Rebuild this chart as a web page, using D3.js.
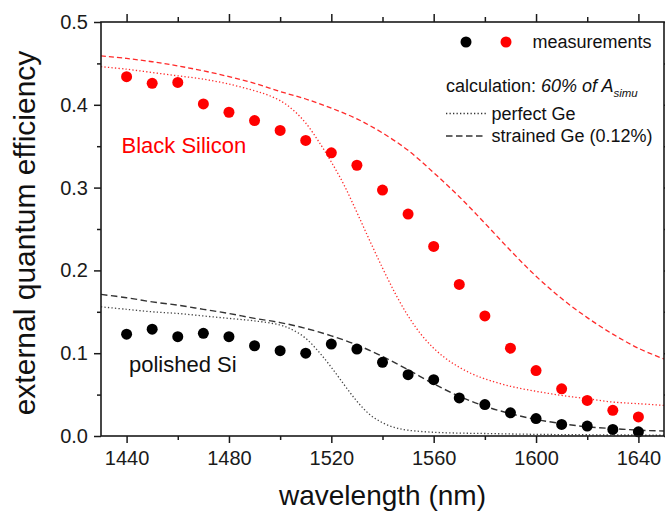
<!DOCTYPE html>
<html>
<head>
<meta charset="utf-8">
<script src="https://cdn.jsdelivr.net/npm/d3@7"></script>
<style>
  body { margin: 0; background: #fff; }
  text { font-family: "Liberation Sans", Arial, Helvetica, sans-serif; }
</style>
</head>
<body>
<svg id="chart" width="665" height="516"></svg>
<script>
// Measured external quantum efficiency (wavelength in nm)
const measWavelength = [1440, 1450, 1460, 1470, 1480, 1490, 1500, 1510, 1520, 1530, 1540,
                        1550, 1560, 1570, 1580, 1590, 1600, 1610, 1620, 1630, 1640];
const blackSiEQE = [0.434, 0.426, 0.427, 0.401, 0.391, 0.381, 0.369, 0.357, 0.342, 0.327, 0.297,
                    0.268, 0.229, 0.183, 0.145, 0.106, 0.079, 0.057, 0.043, 0.031, 0.023];
const polishedSiEQE = [0.123, 0.129, 0.120, 0.124, 0.120, 0.109, 0.103, 0.100, 0.111, 0.105, 0.089,
                       0.074, 0.068, 0.046, 0.038, 0.028, 0.021, 0.014, 0.012, 0.008, 0.005];

// Calculations: 60% of simulated absorption
const blackStrainedWl = [1430, 1440, 1450, 1460, 1470, 1480, 1490, 1500, 1510, 1520, 1530, 1540,
                         1550, 1560, 1570, 1580, 1590, 1600, 1610, 1620, 1630, 1640, 1650];
const blackStrainedEQE = [0.459, 0.456, 0.452, 0.447, 0.441, 0.434, 0.426, 0.416, 0.407, 0.396, 0.383, 0.366,
                          0.345, 0.318, 0.289, 0.257, 0.224, 0.193, 0.166, 0.143, 0.123, 0.106, 0.093];

const blackPerfectWl = [1430, 1440, 1450, 1460, 1470, 1480, 1490, 1495, 1500, 1505, 1510, 1515, 1520, 1525,
                        1530, 1535, 1540, 1545, 1550, 1555, 1560, 1565, 1570, 1575, 1580, 1590, 1600, 1610,
                        1620, 1630, 1640, 1650];
const blackPerfectEQE = [0.446, 0.443, 0.439, 0.435, 0.431, 0.425, 0.417, 0.412, 0.405, 0.394, 0.378, 0.356, 0.331, 0.303,
                         0.270, 0.236, 0.203, 0.172, 0.145, 0.123, 0.106, 0.093, 0.083, 0.075, 0.069, 0.060, 0.054, 0.049,
                         0.045, 0.041, 0.039, 0.037];

const polishedStrainedWl = [1430, 1440, 1450, 1460, 1470, 1480, 1490, 1500, 1510, 1520, 1530, 1540,
                            1550, 1560, 1570, 1580, 1590, 1600, 1610, 1620, 1630, 1640, 1650];
const polishedStrainedEQE = [0.171, 0.167, 0.162, 0.158, 0.153, 0.148, 0.142, 0.137, 0.130, 0.121, 0.110, 0.096,
                             0.080, 0.063, 0.048, 0.036, 0.027, 0.020, 0.015, 0.011, 0.009, 0.007, 0.006];

const polishedPerfectWl = [1430, 1440, 1450, 1460, 1470, 1480, 1490, 1500, 1505, 1510, 1515, 1520, 1525,
                           1530, 1535, 1540, 1545, 1550, 1560, 1570, 1580, 1600, 1620, 1650];
const polishedPerfectEQE = [0.156, 0.153, 0.150, 0.148, 0.145, 0.142, 0.139, 0.134, 0.128, 0.118, 0.102, 0.083, 0.062,
                            0.042, 0.026, 0.016, 0.010, 0.007, 0.0045, 0.0035, 0.003, 0.002, 0.0015, 0.001];

// Axis ticks
const xMajorTicks = [1440, 1480, 1520, 1560, 1600, 1640];
const xMinorTicks = [1460, 1500, 1540, 1580, 1620];
const yMajorTicks = [0.0, 0.1, 0.2, 0.3, 0.4, 0.5];
const yMinorTicks = [0.05, 0.15, 0.25, 0.35, 0.45];

const RED = "#ff0000";
const INK = "#1a1a1a";

const svg = d3.select("#chart");
const plotLeft = 101, plotRight = 664, plotTop = 22, plotBottom = 436;

const x = d3.scaleLinear().domain([1430, 1650]).range([plotLeft, plotRight]);
const y = d3.scaleLinear().domain([0, 0.5]).range([plotBottom, plotTop]);

const plot = svg.append("g");
plot.append("clipPath").attr("id", "clip")
  .append("rect").attr("x", plotLeft).attr("y", plotTop)
  .attr("width", plotRight - plotLeft).attr("height", plotBottom - plotTop);

// Axes: major and minor ticks on all four sides, pointing outward
function styleAxis(g) {
  g.select(".domain").remove();
  g.selectAll(".tick line").attr("stroke", INK).attr("stroke-width", 1.5);
  g.selectAll(".tick text").attr("fill", INK).style("font-size", "20px")
    .style("font-family", "'Liberation Sans', Arial, sans-serif");
}

svg.append("g").attr("transform", `translate(0,${plotBottom})`)
  .call(d3.axisBottom(x).tickValues(xMajorTicks).tickSize(7).tickPadding(8).tickFormat(d3.format("d")))
  .call(styleAxis);
svg.append("g").attr("transform", `translate(0,${plotBottom})`)
  .call(d3.axisBottom(x).tickValues(xMinorTicks).tickSize(4).tickFormat(""))
  .call(styleAxis);
svg.append("g").attr("transform", `translate(0,${plotTop})`)
  .call(d3.axisTop(x).tickValues(xMajorTicks).tickSize(8).tickFormat(""))
  .call(styleAxis);
svg.append("g").attr("transform", `translate(0,${plotTop})`)
  .call(d3.axisTop(x).tickValues(xMinorTicks).tickSize(5).tickFormat(""))
  .call(styleAxis);

svg.append("g").attr("transform", `translate(${plotLeft},0)`)
  .call(d3.axisLeft(y).tickValues(yMajorTicks).tickSize(7).tickPadding(6).tickFormat(d3.format(".1f")))
  .call(styleAxis);
svg.append("g").attr("transform", `translate(${plotLeft},0)`)
  .call(d3.axisLeft(y).tickValues(yMinorTicks).tickSize(4).tickFormat(""))
  .call(styleAxis);
svg.append("g").attr("transform", `translate(${plotRight},0)`)
  .call(d3.axisRight(y).tickValues(yMajorTicks).tickSize(7).tickFormat(""))
  .call(styleAxis);
svg.append("g").attr("transform", `translate(${plotRight},0)`)
  .call(d3.axisRight(y).tickValues(yMinorTicks).tickSize(4).tickFormat(""))
  .call(styleAxis);

// Calculated curves
const line = d3.line().x(d => x(d[0])).y(d => y(d[1])).curve(d3.curveCatmullRom.alpha(0.5));
const curves = [
  { wl: blackStrainedWl, v: blackStrainedEQE, color: "#ff2a2a", dash: "5,3", w: 1.3 },
  { wl: blackPerfectWl, v: blackPerfectEQE, color: "#ff2a2a", dash: "1.3,2.2", w: 1.3 },
  { wl: polishedStrainedWl, v: polishedStrainedEQE, color: "#333", dash: "6.5,3.5", w: 1.4 },
  { wl: polishedPerfectWl, v: polishedPerfectEQE, color: "#444", dash: "1.3,2.2", w: 1.3 }
];
const curveG = plot.append("g").attr("clip-path", "url(#clip)");
curves.forEach(c => {
  curveG.append("path")
    .datum(d3.zip(c.wl, c.v))
    .attr("d", line)
    .attr("fill", "none")
    .attr("stroke", c.color)
    .attr("stroke-width", c.w)
    .attr("stroke-dasharray", c.dash);
});

// Measured points
const pts = plot.append("g");
pts.selectAll("circle.black-si").data(d3.zip(measWavelength, blackSiEQE)).join("circle")
  .attr("class", "black-si")
  .attr("cx", d => x(d[0])).attr("cy", d => y(d[1])).attr("r", 5.5).attr("fill", RED);
pts.selectAll("circle.polished-si").data(d3.zip(measWavelength, polishedSiEQE)).join("circle")
  .attr("class", "polished-si")
  .attr("cx", d => x(d[0])).attr("cy", d => y(d[1])).attr("r", 5.5).attr("fill", "#000");

// Frame
svg.append("rect").attr("x", plotLeft).attr("y", plotTop)
  .attr("width", plotRight - plotLeft).attr("height", plotBottom - plotTop)
  .attr("fill", "none").attr("stroke", INK).attr("stroke-width", 1.6);

// Sample labels
svg.append("text").attr("x", 121.5).attr("y", 153).attr("fill", RED)
  .style("font-size", "22px").text("Black Silicon");
svg.append("text").attr("x", 129).attr("y", 371.5).attr("fill", "#111")
  .style("font-size", "22px").text("polished Si");

// Legend
const lg = svg.append("g").style("font-size", "18px").attr("fill", "#111");
lg.append("circle").attr("cx", 466).attr("cy", 42).attr("r", 5.5).attr("fill", "#000");
lg.append("circle").attr("cx", 506).attr("cy", 42).attr("r", 5.5).attr("fill", RED);
lg.append("text").attr("x", 532.5).attr("y", 48).text("measurements");

const calc = lg.append("text").attr("x", 446).attr("y", 92);
calc.append("tspan").text("calculation: ");
calc.append("tspan").style("font-style", "italic").text("60% of A");
calc.append("tspan").style("font-style", "italic").style("font-size", "11.5px").attr("dy", 5).text("simu");

lg.append("line").attr("x1", 446).attr("x2", 486).attr("y1", 113.5).attr("y2", 113.5)
  .attr("stroke", "#333").attr("stroke-width", 1.3).attr("stroke-dasharray", "1.3,2.2");
lg.append("text").attr("x", 491.5).attr("y", 119.5).text("perfect Ge");
lg.append("line").attr("x1", 446).attr("x2", 486).attr("y1", 136).attr("y2", 136)
  .attr("stroke", "#333").attr("stroke-width", 1.4).attr("stroke-dasharray", "6.5,3.5");
lg.append("text").attr("x", 491.5).attr("y", 142).text("strained Ge (0.12%)");

// Axis titles
svg.append("text").attr("x", (plotLeft + plotRight) / 2).attr("y", 505).attr("text-anchor", "middle")
  .attr("fill", "#111").style("font-size", "28px").text("wavelength (nm)");
svg.append("text").attr("transform", `translate(35,233) rotate(-90)`).attr("text-anchor", "middle")
  .attr("fill", "#111").style("font-size", "30px").text("external quantum efficiency");
</script>
</body>
</html>
